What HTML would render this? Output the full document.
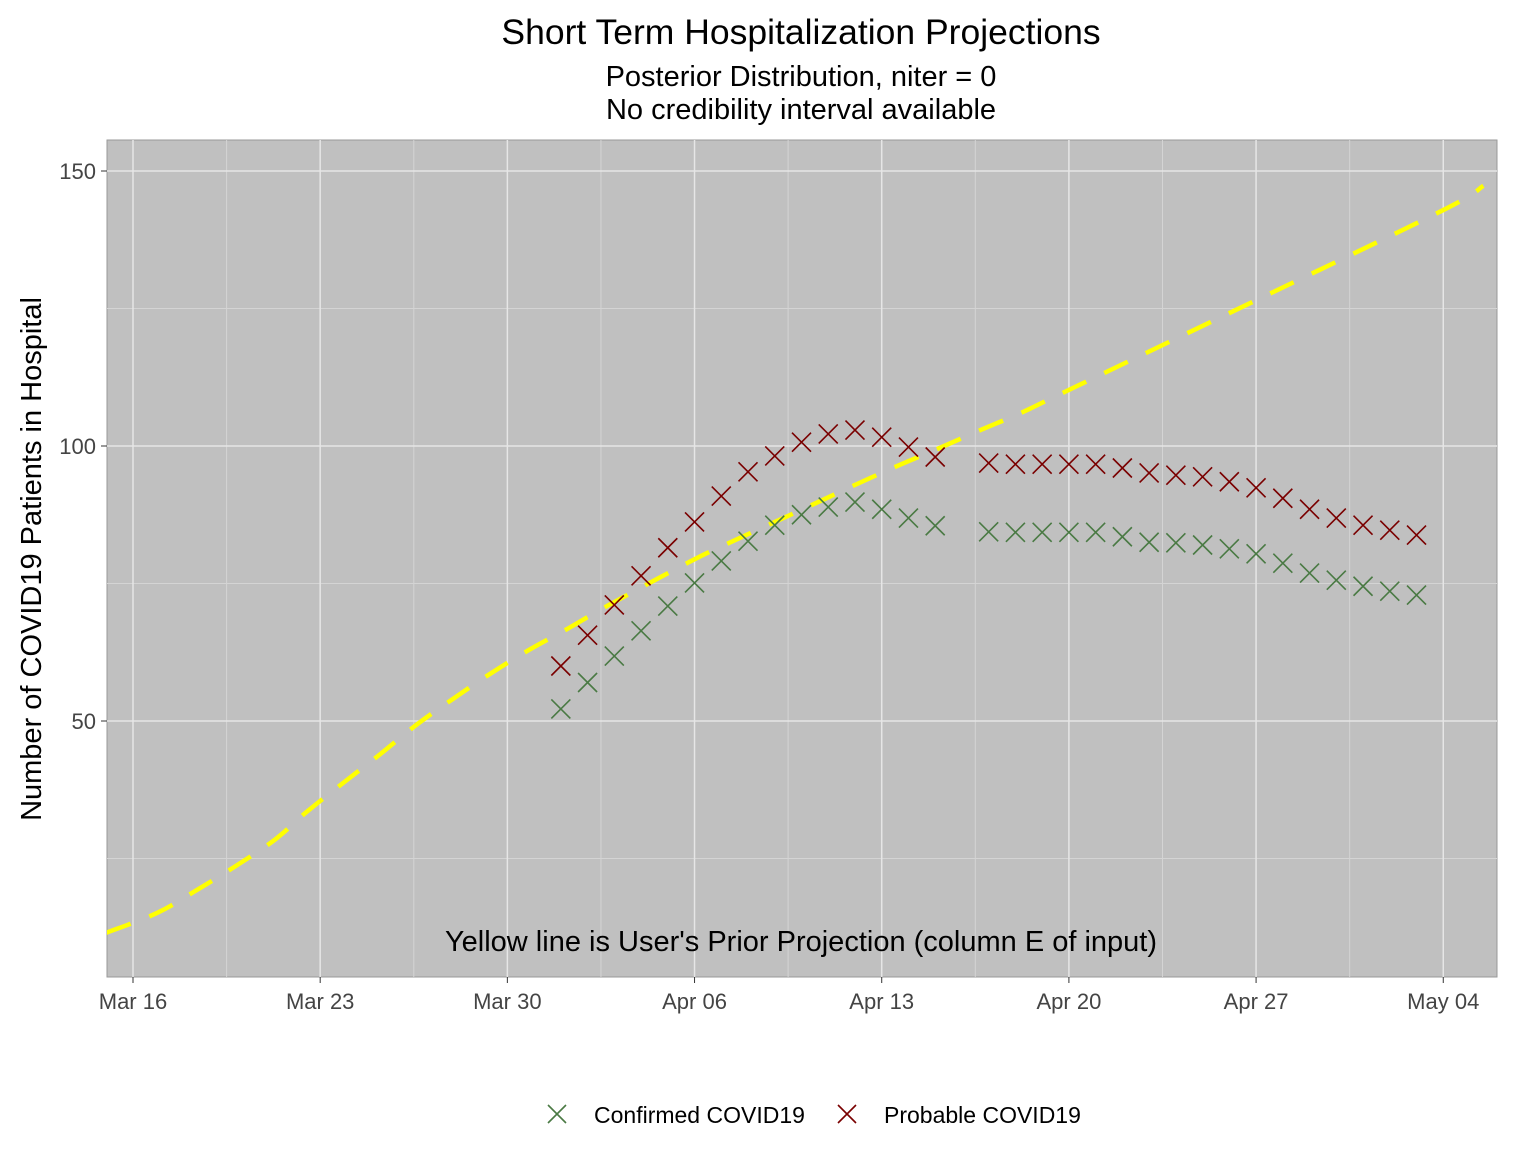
<!DOCTYPE html>
<html><head><meta charset="utf-8"><style>
body{margin:0;background:#fff;}
svg text{font-family:"Liberation Sans",Arial,sans-serif;}
</style></head><body>
<svg id="chart" width="1536" height="1152" xmlns="http://www.w3.org/2000/svg">
<defs><clipPath id="pc"><rect x="107" y="140" width="1390" height="837"/></clipPath></defs>
<text x="801" y="44" font-size="35.5" text-anchor="middle" fill="#000">Short Term Hospitalization Projections</text>
<text x="801" y="86" font-size="29" text-anchor="middle" fill="#000">Posterior Distribution, niter = 0</text>
<text x="801" y="119" font-size="29" text-anchor="middle" fill="#000">No credibility interval available</text>
<rect x="107" y="140" width="1390" height="837" fill="#c0c0c0" stroke="#999" stroke-width="1"/>
<g id="grid"></g>
<g id="axes"></g>
<g id="marks"></g>
<text transform="translate(41,559) rotate(-90)" font-size="29" text-anchor="middle" fill="#000">Number of COVID19 Patients in Hospital</text>
<text x="801" y="951" font-size="29" text-anchor="middle" fill="#000">Yellow line is User's Prior Projection (column E of input)</text>
<g>
<g>
<path d="M548,1105 L566,1123 M566,1105 L548,1123" stroke="#4a7a44" stroke-width="1.6"/>
<text x="594" y="1123" font-size="23" fill="#000">Confirmed COVID19</text></g>
<g>
<path d="M838,1105 L856,1123 M856,1105 L838,1123" stroke="#7a0000" stroke-width="1.6"/>
<text x="884" y="1123" font-size="23" fill="#000">Probable COVID19</text></g>
</g>
</svg>
<script>
const xTickLabels=["Mar 16","Mar 23","Mar 30","Apr 06","Apr 13","Apr 20","Apr 27","May 04"];
const xTickDays=[0,7,14,21,28,35,42,49];
const yTicks=[50,100,150];
const yMinor=[25,75,125];
const confDays=[16,17,18,19,20,21,22,23,24,25,26,27,28,29,30,32,33,34,35,36,37,38,39,40,41,42,43,44,45,46,47,48];
const confVals=[52.2,57,61.8,66.4,70.9,75.1,79.1,82.7,85.6,87.5,88.9,89.8,88.5,86.9,85.5,84.4,84.3,84.3,84.3,84.3,83.5,82.5,82.4,82,81.3,80.4,78.7,76.9,75.6,74.5,73.6,72.9];
const probDays=confDays;
const probVals=[60,65.6,71.1,76.4,81.5,86.2,90.9,95.3,98.2,100.7,102.2,102.9,101.6,99.8,98,96.9,96.7,96.7,96.7,96.7,96,95.1,94.7,94.4,93.5,92.4,90.5,88.5,86.9,85.6,84.7,83.8];
const priorDays=[-1,0.9,2.4,3.8,5.3,6.5,7.85,9.2,10.6,11.9,13.3,14.8,16.3,17.8,20.8,22.3,25.4,26.9,28.5,30.1,31.6,33.2,34.7,42,49,50.5];
const priorVals=[11.5,15.1,19.3,23.5,28.4,33.5,38.7,43.8,49.3,53.8,58.4,62.9,66.9,71.1,78.9,82.4,89.3,92.7,96.2,99.5,102.7,106,109.5,126.5,142.9,147.3];
const xs=d=>133+d*26.74;
const ys=v=>446-(v-100)*5.5;
const NS="http://www.w3.org/2000/svg";
function mk(tag,attrs,parent){const e=document.createElementNS(NS,tag);for(const k in attrs)e.setAttribute(k,attrs[k]);parent.appendChild(e);return e;}
const grid=document.getElementById('grid'),axes=document.getElementById('axes'),marks=document.getElementById('marks');
yMinor.forEach(v=>{const l=mk('line',{x1:107,x2:1497,y1:ys(v),y2:ys(v),stroke:'#d4d4d4','stroke-width':1},grid);

});
xTickDays.forEach(d=>{if(xs(d+3.5)<1497){const l=mk('line',{x1:xs(d+3.5),x2:xs(d+3.5),y1:140,y2:977,stroke:'#d4d4d4','stroke-width':1},grid);

}});
yTicks.forEach(v=>{const l=mk('line',{x1:107,x2:1497,y1:ys(v),y2:ys(v),stroke:'#e6e6e6','stroke-width':1.5},grid);


const t=mk('line',{x1:101,x2:107,y1:ys(v),y2:ys(v),stroke:'#333','stroke-width':1},axes);


const tx=mk('text',{x:96,y:ys(v)+8,'font-size':22,'text-anchor':'end',fill:'#444'},axes);tx.textContent=v;

});
xTickDays.forEach((d,i)=>{const l=mk('line',{x1:xs(d),x2:xs(d),y1:140,y2:977,stroke:'#e6e6e6','stroke-width':1.5},grid);


const t=mk('line',{x1:xs(d),x2:xs(d),y1:977,y2:983,stroke:'#333','stroke-width':1},axes);


const tx=mk('text',{x:xs(d),y:1009,'font-size':22,'text-anchor':'middle',fill:'#444'},axes);tx.textContent=xTickLabels[i];

});
const pts=priorDays.map((d,i)=>[xs(d),ys(priorVals[i])]);
let dstr=`M${pts[0][0]},${pts[0][1]}`;
for(let i=0;i<pts.length-1;i++){const p0=pts[Math.max(0,i-1)],p1=pts[i],p2=pts[i+1],p3=pts[Math.min(pts.length-1,i+2)];
dstr+=` C${p1[0]+(p2[0]-p0[0])/6},${p1[1]+(p2[1]-p0[1])/6} ${p2[0]-(p3[0]-p1[0])/6},${p2[1]-(p3[1]-p1[1])/6} ${p2[0]},${p2[1]}`;}
const pl=mk('path',{d:dstr,fill:'none',stroke:'#ffff00','stroke-width':4.5,'stroke-dasharray':'26 20','clip-path':'url(#pc)'},marks);


function cross(d,v,color,name){const x=xs(d),y=ys(v),s=9.5;
const p=mk('path',{d:`M${x-s},${y-s} L${x+s},${y+s} M${x+s},${y-s} L${x-s},${y+s}`,stroke:color,'stroke-width':1.6,fill:'none'},marks);

}
confDays.forEach((d,i)=>cross(d,confVals[i],'#4a7a44','confirmed-point'));
probDays.forEach((d,i)=>cross(d,probVals[i],'#7a0000','probable-point'));
</script>
</body></html>
